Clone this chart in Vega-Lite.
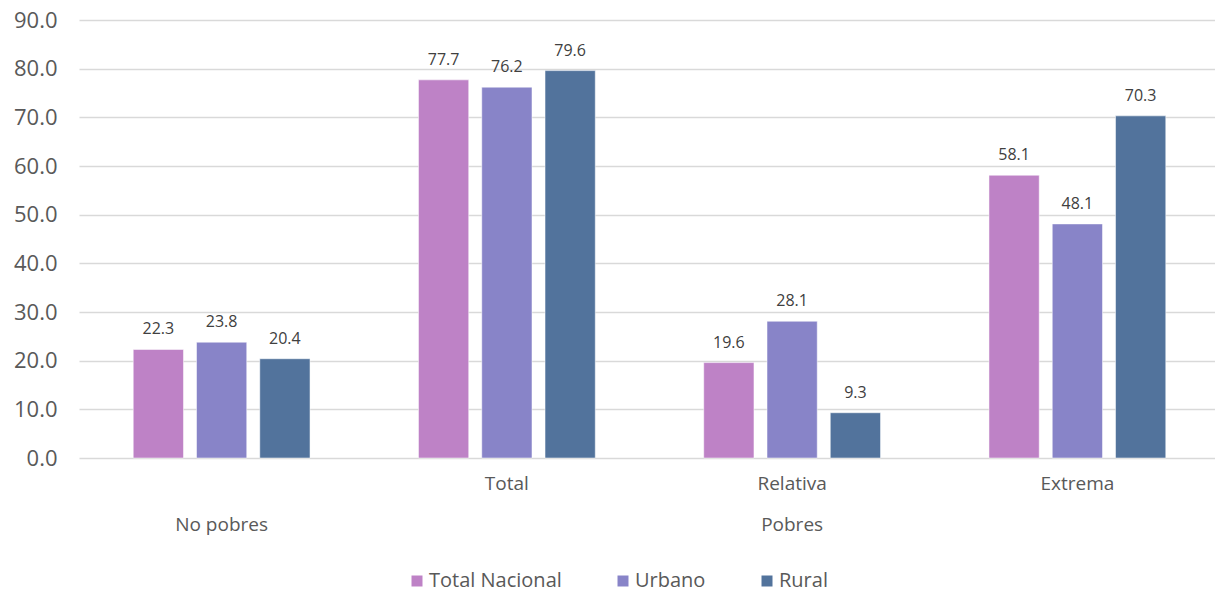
{
  "$schema": "https://vega.github.io/schema/vega-lite/v6.json",
  "autosize": {"type": "none"},
  "padding": {"left": 79, "top": 20, "right": 0, "bottom": 134},
  "width": 1136,
  "height": 438,
  "background": "#ffffff",
  "config": {
    "font": "Open Sans",
    "view": {"stroke": null}
  },
  "data": {
    "values": [
      {"grupo": "No pobres", "serie": "Total Nacional", "valor": 22.3},
      {"grupo": "No pobres", "serie": "Urbano", "valor": 23.8},
      {"grupo": "No pobres", "serie": "Rural", "valor": 20.4},
      {"grupo": "Total", "serie": "Total Nacional", "valor": 77.7},
      {"grupo": "Total", "serie": "Urbano", "valor": 76.2},
      {"grupo": "Total", "serie": "Rural", "valor": 79.6},
      {"grupo": "Relativa", "serie": "Total Nacional", "valor": 19.6},
      {"grupo": "Relativa", "serie": "Urbano", "valor": 28.1},
      {"grupo": "Relativa", "serie": "Rural", "valor": 9.3},
      {"grupo": "Extrema", "serie": "Total Nacional", "valor": 58.1},
      {"grupo": "Extrema", "serie": "Urbano", "valor": 48.1},
      {"grupo": "Extrema", "serie": "Rural", "valor": 70.3}
    ]
  },
  "encoding": {
    "x": {
      "field": "grupo",
      "type": "nominal",
      "sort": ["No pobres", "Total", "Relativa", "Extrema"],
      "scale": {"paddingInner": 0, "paddingOuter": 0, "range": [0, 1141]},
      "axis": {
        "title": null,
        "domain": false,
        "ticks": false,
        "labelAngle": 0,
        "labelFontSize": 19,
        "labelColor": "#595959",
        "labelPadding": 16,
        "labelLineHeight": 41,
        "labelExpr": "datum.value === 'No pobres' ? ['', 'No pobres'] : datum.value === 'Relativa' ? ['Relativa', 'Pobres'] : datum.value"
      }
    },
    "xOffset": {
      "field": "serie",
      "type": "nominal",
      "sort": ["Total Nacional", "Urbano", "Rural"],
      "scale": {"paddingInner": 0.206, "paddingOuter": 0.857}
    },
    "y": {
      "field": "valor",
      "type": "quantitative",
      "scale": {"domain": [0, 90], "nice": false},
      "axis": {
        "title": null,
        "values": [0, 10, 20, 30, 40, 50, 60, 70, 80, 90],
        "format": ".1f",
        "domain": false,
        "ticks": false,
        "labelFontSize": 22,
        "labelColor": "#595959",
        "labelPadding": 22,
        "gridColor": "#d9d9d9",
        "gridWidth": 1.5
      }
    }
  },
  "layer": [
    {
      "mark": {"type": "bar", "stroke": "#ffffff", "strokeWidth": 1, "strokeOpacity": 0.5},
      "encoding": {
        "color": {
          "field": "serie",
          "type": "nominal",
          "sort": ["Total Nacional", "Urbano", "Rural"],
          "scale": {
            "domain": ["Total Nacional", "Urbano", "Rural"],
            "range": ["#be82c6", "#8884c8", "#52739c"]
          },
          "legend": {
            "title": null,
            "orient": "none",
            "direction": "horizontal",
            "legendX": 328,
            "legendY": 551,
            "padding": 0,
            "symbolType": "square",
            "symbolSize": 121,
            "symbolStrokeWidth": 0,
            "symbolOpacity": 1,
            "labelFontSize": 20,
            "labelColor": "#595959",
            "labelOffset": 2,
            "columnPadding": 51
          }
        }
      }
    },
    {
      "mark": {"type": "text", "dy": -15, "baseline": "alphabetic", "fontSize": 16, "color": "#404040"},
      "encoding": {
        "text": {"field": "valor", "type": "quantitative", "format": ".1f"}
      }
    }
  ]
}
